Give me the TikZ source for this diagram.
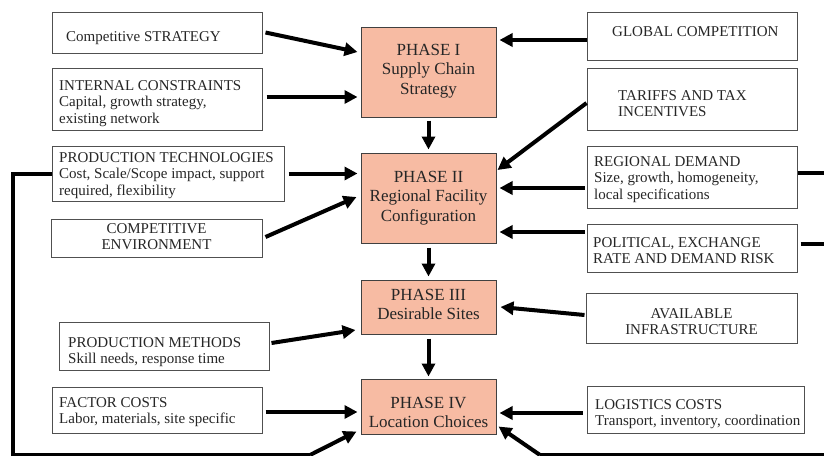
\documentclass[tikz,border=0pt]{standalone}
\usepackage{fontspec}
\setmainfont{Liberation Serif}
\usetikzlibrary{arrows.meta,calc}
\definecolor{phasefill}{RGB}{247,187,163}
\definecolor{boxline}{RGB}{80,80,80}
\tikzset{
  box/.style={draw=boxline, line width=1pt, inner sep=0pt, fill=white},
  phasebox/.style={draw=black!75, line width=1pt, fill=phasefill, inner sep=0pt},
  txt/.style={inner sep=0pt, align=left, anchor=north west,
    font=\fontsize{15}{16.8}\selectfont, text=black!85},
  ctxt/.style={txt, align=center, anchor=north},
  ptxt/.style={inner sep=0pt, align=center, anchor=north,
    font=\fontsize{17}{19.5}\selectfont, text=black!85},
  arr/.style={line width=4pt, -{Triangle[length=13pt,width=13pt]}},
  fb/.style={line width=4pt},
}
\begin{document}
\begin{tikzpicture}[x=1pt,y=-1pt]
\useasboundingbox (0,0) rectangle (824,455);
\clip (0,0) rectangle (824,455);

% phase boxes
\node[phasebox, minimum width=135, minimum height=90] (p1) at (428.5,72) {};
\node[phasebox, minimum width=135, minimum height=90] (p2) at (428.5,198) {};
\node[phasebox, minimum width=135, minimum height=54] (p3) at (428.5,307) {};
\node[phasebox, minimum width=135, minimum height=55] (p4) at (428.5,406.5) {};

% input boxes, left column
\node[box, minimum width=210, minimum height=41] (cs) at (157,32.5) {};
\node[box, minimum width=210, minimum height=62] (ic) at (157,99) {};
\node[box, minimum width=232, minimum height=55] (pt) at (168,173.5) {};
\node[box, minimum width=211, minimum height=38] (ce) at (156.5,238) {};
\node[box, minimum width=210, minimum height=48] (pm) at (164,346) {};
\node[box, minimum width=210, minimum height=46] (fc) at (157,410) {};

% input boxes, right column
\node[box, minimum width=210, minimum height=48] (gc) at (692,36) {};
\node[box, minimum width=210, minimum height=62] (tt) at (692,99) {};
\node[box, minimum width=210, minimum height=62] (rd) at (692,177) {};
\node[box, minimum width=210, minimum height=48] (pr) at (692,248) {};
\node[box, minimum width=211, minimum height=50] (ai) at (691.5,318) {};
\node[box, minimum width=217, minimum height=47] (lc) at (695.5,409.5) {};

% phase texts
\node[ptxt] (t-p1) at (428.5,41.35) {\strut PHASE I\\Supply Chain\\Strategy};
\node[ptxt] (t-p2) at (428.5,168.35) {\strut PHASE II\\Regional Facility\\Configuration};
\node[ptxt] (t-p3) at (428.5,286.35) {\strut PHASE III\\Desirable Sites};
\node[ptxt] (t-p4) at (428.5,394.35) {\strut PHASE IV\\Location Choices};

% box texts
\node[txt] (t-cs) at (66,29.2) {\strut Competitive STRATEGY};
\node[txt] (t-ic) at (59,78.2) {\strut INTERNAL CONSTRAINTS\\Capital, growth strategy,\\existing network};
\node[txt] (t-pt) at (59,150.2) {\strut PRODUCTION TECHNOLOGIES\\Cost, Scale/Scope impact, support\\required, flexibility};
\node[ctxt] (t-ce) at (156.5,221.2) {\strut COMPETITIVE\\ENVIRONMENT};
\node[txt] (t-pm) at (68,335.2) {\strut PRODUCTION METHODS\\Skill needs, response time};
\node[txt] (t-fc) at (59,395.2) {\strut FACTOR COSTS\\Labor, materials, site specific};
\node[txt] (t-gc) at (612,24.2) {\strut GLOBAL COMPETITION};
\node[txt] (t-tt) at (618,88.2) {\strut TARIFFS AND TAX\\INCENTIVES};
\node[txt] (t-rd) at (594,154.2) {\strut REGIONAL DEMAND\\Size, growth, homogeneity,\\local specifications};
\node[txt] (t-pr) at (593,235.2) {\strut POLITICAL, EXCHANGE\\RATE AND DEMAND RISK};
\node[ctxt] (t-ai) at (691.5,306.2) {\strut AVAILABLE\\INFRASTRUCTURE};
\node[txt] (t-lc) at (595,397.2) {\strut LOGISTICS COSTS\\Transport, inventory, coordination};

% phase sequence
\draw[arr] ($(p1.south)+(0,3)$) -- ($(p2.north)+(0,-3)$);
\draw[arr] ($(p2.south)+(0,4)$) -- ($(p3.north)+(0,-3)$);
\draw[arr] ($(p3.south)+(0,4)$) -- ($(p4.north)+(0,-2)$);

% left inputs
\draw[arr] ($(cs.east)+(3,0)$) -- ($(p1.west)+(-3,-20)$);
\draw[arr] ($(ic.east)+(4,-2)$) -- ($(p1.west)+(-3,25)$);
\draw[arr] ($(pt.east)+(4,0)$) -- ($(p2.west)+(-3,-24.5)$);
\draw[arr] ($(ce.east)+(3,-1)$) -- ($(p2.west)+(-4,-1)$);
\draw[arr] ($(pm.east)+(2,-3)$) -- ($(p3.west)+(-5,23)$);
\draw[arr] ($(fc.east)+(3,2)$) -- ($(p4.west)+(-3,5.5)$);

% right inputs
\draw[arr] ($(gc.west)+(0,4)$) -- ($(p1.east)+(3,-32)$);
\draw[arr] ($(tt.west)+(0,4)$) -- ($(p2.east)+(1,-28)$);
\draw[arr] ($(rd.west)+(-2,11)$) -- ($(p2.east)+(3,-10)$);
\draw[arr] ($(pr.west)+(-2,-16)$) -- ($(p2.east)+(3,34)$);
\draw[arr] ($(ai.west)+(-1,-3)$) -- ($(p3.east)+(4,0)$);
\draw[arr] ($(lc.west)+(-4,3.5)$) -- ($(p4.east)+(3,6.5)$);

% feedback loops into phase IV
\coordinate (lt) at (13,173.5);
\coordinate (lb) at (13,455);
\coordinate (lk) at (310,455);
\coordinate (rt) at (830,173);
\coordinate (rm) at (830,244);
\coordinate (rb) at (830,455);
\coordinate (rk) at (540,455);
\draw[fb, line join=miter] (pt.west) -- (lt) -- (lb) -- (lk);
\draw[arr] (lk) -- ($(p4.south west)+(-4,-3)$);
\draw[fb, line join=miter] ($(rd.east)+(0,-4)$) -- (rt) -- (rb) -- (rk);
\draw[fb] ($(pr.east)+(3,-4)$) -- (rm);
\draw[arr] (rk) -- ($(p4.south east)+(2,-8)$);
\end{tikzpicture}
\end{document}
